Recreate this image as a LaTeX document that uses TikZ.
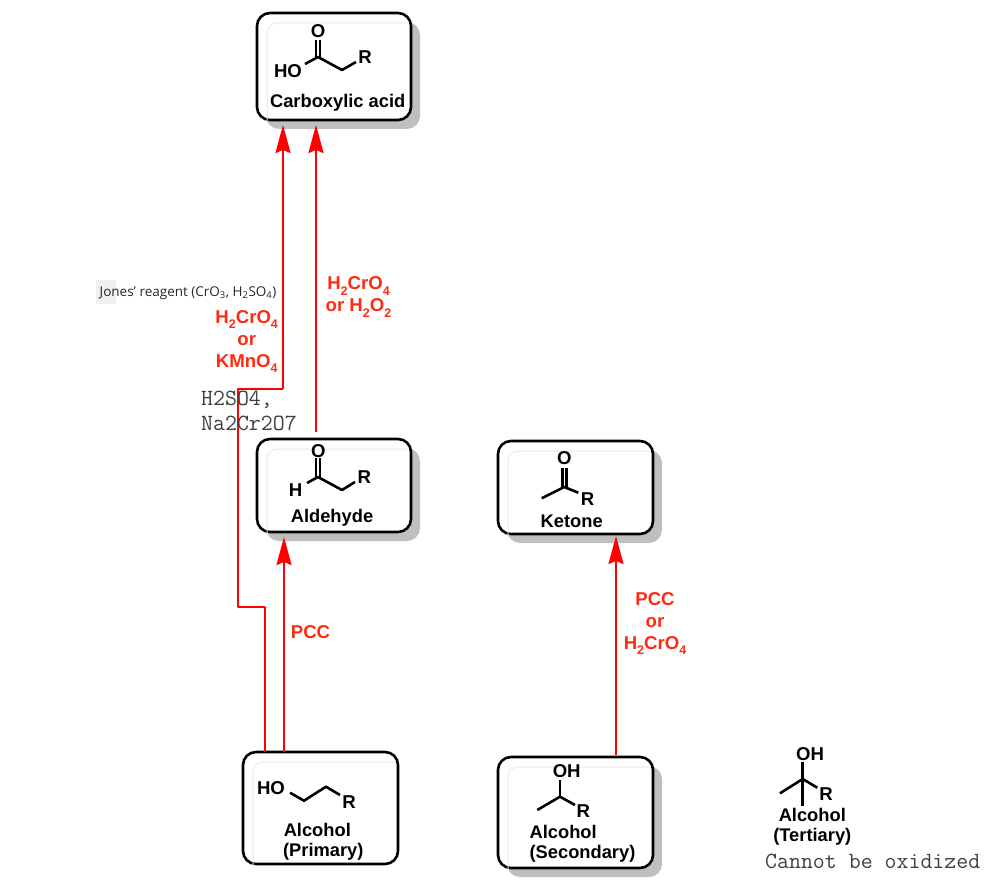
\documentclass[tikz,border=0pt]{standalone}
\usepackage{fontspec}
\setmainfont{Liberation Sans}
\newfontfamily\jonesfont{Open Sans}
\newfontfamily\notefont{Latin Modern Mono}
\usetikzlibrary{arrows.meta,shadows}
\definecolor{reagentred}{HTML}{FF2A12}
\newcommand{\lowsub}[1]{\raisebox{-0.28em}{\fontsize{12.5}{13}\selectfont #1}}
\tikzset{
 molbox/.style={draw=black, line width=2.6pt, rounded corners=13pt, fill=white, outer sep=0pt, inner sep=0pt},
 molshadow/.style={molbox, drop shadow={shadow xshift=9pt, shadow yshift=-9pt, fill=black!25, opacity=1}},
 molname/.style={font=\fontsize{18.3}{19.6}\selectfont\bfseries, inner sep=0pt, align=center},
 atom/.style={font=\fontsize{18.6}{19}\selectfont\bfseries, inner sep=0pt},
 reagent/.style={font=\fontsize{18.6}{22}\selectfont\bfseries, text=reagentred, inner sep=0pt, align=center},
 note/.style={font=\fontsize{23.2}{24}\notefont, text=black!75, inner sep=0pt, anchor=west},
 bond/.style={line width=2.6pt, line cap=butt},
 oxline/.style={red, line width=2.2pt, shorten >=5pt},
 oxroute/.style={red, line width=2.8pt},
 innerline/.style={black!8, line width=1pt}
}
\begin{document}
\begin{tikzpicture}[x=1pt, y=-1pt, >={Stealth[length=28pt,width=15pt,inset=3pt]}, line join=round]
\useasboundingbox (0,0) rectangle (986,888);
% the boxes
\node[molshadow, minimum width=154pt, minimum height=107pt] (acid) at (334,66.5) {};
\node[molshadow, minimum width=154pt, minimum height=93pt] (aldehyde) at (334,485.5) {};
\node[molshadow, minimum width=155pt, minimum height=93pt] (ketone) at (575.5,487.5) {};
\node[molbox, minimum width=155pt, minimum height=112pt] (primary) at (320.5,808) {};
\node[molshadow, minimum width=155pt, minimum height=111pt] (secondary) at (575.5,812.5) {};
% faint inner edge
\foreach \b in {acid,aldehyde,ketone,primary,secondary}
\draw[innerline, rounded corners=10pt] ([shift={(10pt,-3pt)}]\b.south west) |- ([shift={(-3pt,-10pt)}]\b.north east);
% Jones label
\fill[black!6] (96,280) rectangle (116,304);
\node[font=\fontsize{13.5}{15}\jonesfont, text=black!85, inner sep=0pt] (jones) at (188,293) {Jones’ reagent (CrO\textsubscript{3}, H\textsubscript{2}SO\textsubscript{4})};
% corners of the long route
\coordinate (bendA) at (265,607);
\coordinate (bendB) at (238,607);
\coordinate (bendC) at (238,389);
\coordinate (bendD) at (283,389);
\coordinate (tipPCC) at (284,650);
\coordinate (tipAcid) at (316,280);
\coordinate (tipKetone) at (616,650);
\draw[oxroute] (primary.north -| bendA)--(bendA)--(bendB)--(bendC)--(bendD);
\draw[oxline, ->] (bendD)--(bendD |- acid.south);
\draw[oxline, ->, shorten <=7pt] (aldehyde.north -| tipAcid)--(tipAcid |- acid.south);
\draw[oxline, ->] (primary.north -| tipPCC)--(tipPCC |- aldehyde.south);
\draw[oxline, ->, shorten >=2pt, shorten <=2pt] (secondary.north -| tipKetone)--(tipKetone |- ketone.south);
% reagents
\node[reagent] (rgA) at (246.7,341.5) {H\lowsub{2}CrO\lowsub{4}\\or\\KMnO\lowsub{4}};
\node[reagent] (rgB) at (358.5,297) {H\lowsub{2}CrO\lowsub{4}\\or H\lowsub{2}O\lowsub{2}};
\node[reagent] (rgC) at (310.5,632) {PCC};
\node[reagent] (rgD) at (655,623.5) {PCC\\or\\H\lowsub{2}CrO\lowsub{4}};
\node[note] (noteA) at (201,400) {H2SO4,};
\node[note] (noteB) at (201,423) {Na2Cr2O7};
\node[note] (noteC) at (765,861.5) {Cannot be oxidized};
% carboxylic acid
\node[atom] at (318,31) {O};
\node[atom] at (288,71) {HO};
\node[atom] at (365,57) {R};
\foreach \dx in {-2,2}
\draw[bond] (318+\dx,40)--(318+\dx,57);
\draw[bond] (305,64)--(318,57)--(342,70)--(356,62);
\node[molname] (nameAcid) at (337.7,103) {Carboxylic acid};
% aldehyde
\node[atom] at (318.3,450.7) {O};
\node[atom] at (295.7,490) {H};
\node[atom] at (364.3,477.3) {R};
\foreach \dx in {-2,2}
\draw[bond] (318+\dx,458)--(318+\dx,477);
\draw[bond] (307,483)--(318,477)--(342,490)--(355,482);
\node[molname] (nameAldehyde) at (332,518) {Aldehyde};
% ketone
\node[atom] at (564.3,458.3) {O};
\node[atom] at (587.7,499.3) {R};
\foreach \dx in {-2,2}
\draw[bond] (564.3+\dx,468)--(564.3+\dx,487);
\draw[bond] (541.7,498.3)--(564.3,487)--(578.3,492.7);
\node[molname] (nameKetone) at (571.7,521) {Ketone};
% primary alcohol
\node[atom] at (271,787.7) {HO};
\node[atom] at (349,801.7) {R};
\draw[bond] (290,792.7)--(304,800.7)--(326,786.7)--(340,795);
\node[molname] (namePrimary) at (323.3,842) {\hspace*{-12pt}Alcohol\\(Primary)};
% secondary alcohol
\node[atom] at (566.7,771) {OH};
\node[atom] at (583.3,811) {R};
\draw[bond] (560,780)--(560,796.7);
\draw[bond] (537.3,810)--(560,796.7)--(575,805);
\node[molname, align=left] (nameSecondary) at (582.5,844) {Alcohol\\(Secondary)};
% tertiary alcohol
\node[atom] at (810,754) {OH};
\node[atom] at (826,794.3) {R};
\draw[bond] (802.7,761.7)--(802.7,805.7);
\draw[bond] (780,793.3)--(802.7,779)--(817.3,787.7);
\node[molname] (nameTertiary) at (812.3,827) {Alcohol\\(Tertiary)};
\end{tikzpicture}
\end{document}
